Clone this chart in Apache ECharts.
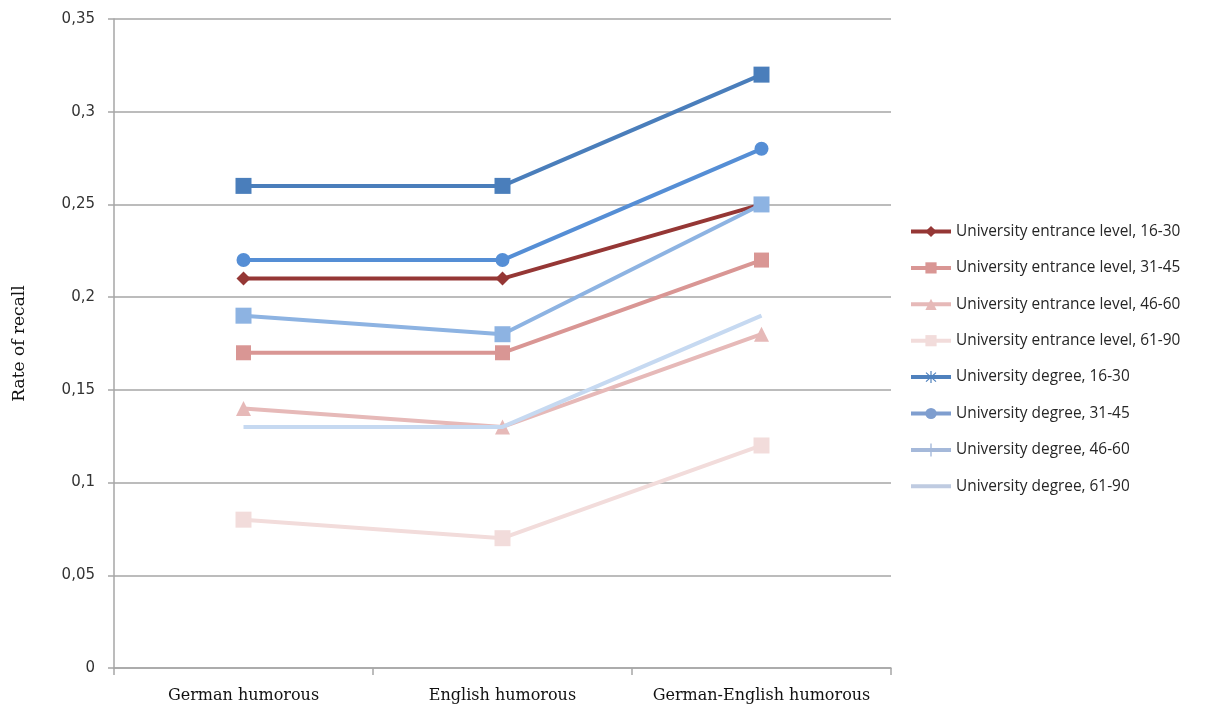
<!DOCTYPE html>
<html>
<head>
<meta charset="utf-8">
<script src="https://cdn.jsdelivr.net/npm/echarts@6/dist/echarts.min.js"></script>
<style>
  html, body { margin: 0; padding: 0; background: #fff; }
  #chart { width: 1226px; height: 704px; }
</style>
</head>
<body>
<div id="chart"></div>
<script>
// Recall rates by text type, education level and age group
const categories = ['German humorous', 'English humorous', 'German-English humorous'];

const seriesNames = [
  'University entrance level, 16-30',
  'University entrance level, 31-45',
  'University entrance level, 46-60',
  'University entrance level, 61-90',
  'University degree, 16-30',
  'University degree, 31-45',
  'University degree, 46-60',
  'University degree, 61-90'
];

const entrance16to30 = [0.21, 0.21, 0.25];
const entrance31to45 = [0.17, 0.17, 0.22];
const entrance46to60 = [0.14, 0.13, 0.18];
const entrance61to90 = [0.08, 0.07, 0.12];
const degree16to30   = [0.26, 0.26, 0.32];
const degree31to45   = [0.22, 0.22, 0.28];
const degree46to60   = [0.19, 0.18, 0.25];
const degree61to90   = [0.13, 0.13, 0.19];

const yTicks = [0, 0.05, 0.1, 0.15, 0.2, 0.25, 0.3, 0.35];

const seriesData = [
  entrance16to30, entrance31to45, entrance46to60, entrance61to90,
  degree16to30, degree31to45, degree46to60, degree61to90
];

// line colour, marker, marker size
const styles = [
  { color: '#953735', symbol: 'diamond',  size: 14 },
  { color: '#D99694', symbol: 'rect',     size: 15 },
  { color: '#E6B9B8', symbol: 'triangle', size: 15 },
  { color: '#F2DCDB', symbol: 'rect',     size: 16 },
  { color: '#4A7EBB', symbol: 'rect',     size: 16 },
  { color: '#558ED5', symbol: 'circle',   size: 14 },
  { color: '#8DB3E2', symbol: 'rect',     size: 16 },
  { color: '#C6D9F1', symbol: 'none',     size: 0 }
];

// legend swatches drawn as a 40x14 path: a 4px line plus an optional glyph
const frame = 'M0 0h0.01v0.01h-0.01Z M39.99 13.99h0.01v0.01h-0.01Z ';
const bar = 'M0 5h40v4h-40Z ';
const plainIcon = 'path://' + frame + bar;
const asteriskIcon = 'path://' + frame + bar +
  'M19.4 1h1.2v12h-1.2Z M14.6 2.9L15.4 2.1L25.4 11.1L24.6 11.9Z M24.6 2.1L25.4 2.9L15.4 11.9L14.6 11.1Z';
const plusIcon = 'path://' + frame + bar + 'M19.3 0.5h1.4v13h-1.4Z';
const legendStyles = [
  { color: '#953735' },
  { color: '#D99694' },
  { color: '#E6B9B8' },
  { color: '#F2DCDB' },
  { color: '#4F81BD', icon: asteriskIcon },
  { color: '#7F9ECF' },
  { color: '#A5B9DA', icon: plusIcon },
  { color: '#BFCBE1', icon: plainIcon }
];

const fmt = v => String(+v.toFixed(2)).replace('.', ',');

const chart = echarts.init(document.getElementById('chart'), null, { renderer: 'canvas' });

chart.setOption({
  animation: false,
  backgroundColor: '#ffffff',
  grid: { left: 114, top: 19, width: 777, bottom: 36, containLabel: false, outerBoundsMode: 'none' },
  legend: {
    orient: 'vertical',
    left: 909,
    top: 224,
    padding: 0,
    itemWidth: 40,
    itemHeight: 14,
    itemGap: 21.4,
    textStyle: { fontFamily: 'Open Sans', fontSize: 15.4, color: '#262626', lineHeight: 15 },
    data: seriesNames.map((n, i) => {
      const item = {
        name: n,
        itemStyle: { color: legendStyles[i].color },
        lineStyle: { color: legendStyles[i].color, width: 4 }
      };
      if (legendStyles[i].icon) item.icon = legendStyles[i].icon;
      return item;
    })
  },
  xAxis: {
    type: 'category',
    data: categories,
    boundaryGap: true,
    axisLine: { lineStyle: { color: '#A6A6A6', width: 1.5 } },
    axisTick: { show: true, interval: 0, length: 7, alignWithLabel: false, lineStyle: { color: '#A6A6A6', width: 1.5 } },
    axisLabel: { interval: 0, hideOverlap: false, fontFamily: 'DejaVu Serif', fontSize: 16, color: '#111', margin: 20 }
  },
  yAxis: {
    type: 'value',
    min: yTicks[0],
    max: yTicks[yTicks.length - 1],
    interval: 0.05,
    name: 'Rate of recall',
    nameLocation: 'middle',
    nameGap: 86,
    nameTextStyle: { fontFamily: 'DejaVu Serif', fontSize: 17, color: '#111' },
    axisLine: { show: true, lineStyle: { color: '#A6A6A6', width: 1.5 } },
    axisTick: { show: true, length: 6, lineStyle: { color: '#A6A6A6', width: 1.5 } },
    axisLabel: { fontFamily: 'DejaVu Sans', fontSize: 15, color: '#333', margin: 19, formatter: fmt },
    splitLine: { show: true, lineStyle: { color: '#A6A6A6', width: 1.5 } }
  },
  series: seriesNames.map((n, i) => ({
    name: n,
    type: 'line',
    data: seriesData[i],
    symbol: styles[i].symbol,
    symbolSize: styles[i].size,
    showSymbol: styles[i].symbol !== 'none',
    lineStyle: { color: styles[i].color, width: 4 },
    itemStyle: { color: styles[i].color },
    z: 2 + i
  }))
});
</script>
</body>
</html>
